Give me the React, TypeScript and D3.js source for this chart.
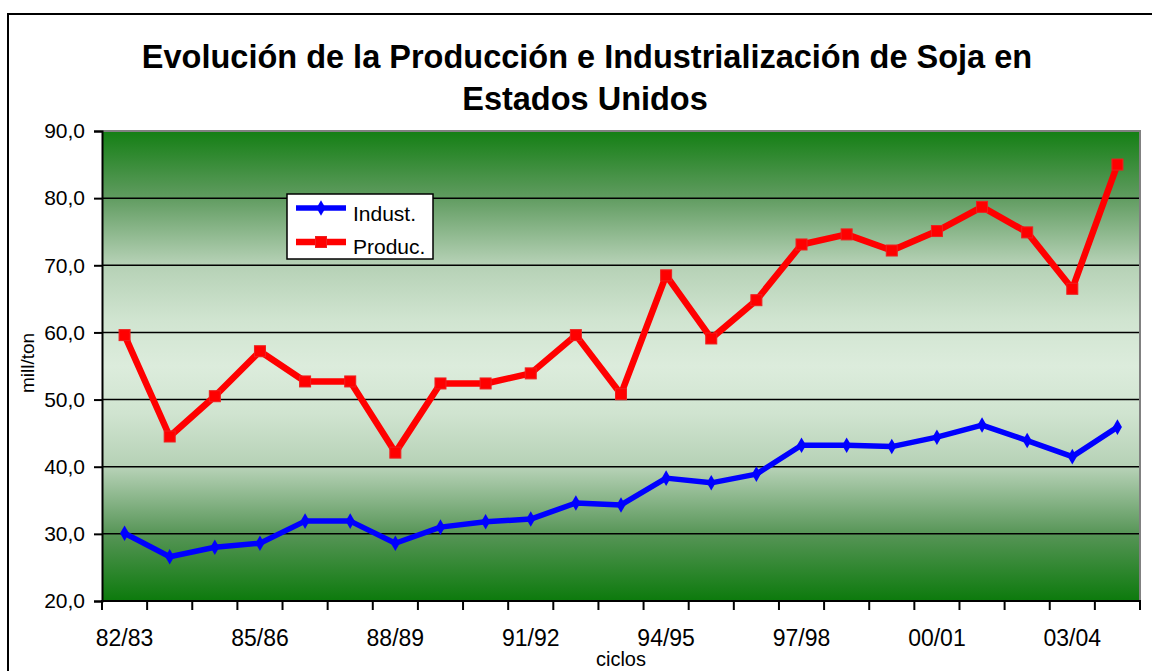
import { useEffect, useRef } from 'react';
import * as d3 from 'd3';

// campaign cycles (x axis)
const ciclos: string[] = [
  '82/83', '83/84', '84/85', '85/86', '86/87', '87/88', '88/89', '89/90',
  '90/91', '91/92', '92/93', '93/94', '94/95', '95/96', '96/97', '97/98',
  '98/99', '99/00', '00/01', '01/02', '02/03', '03/04', '04/05',
];

// millions of tons
const indust: number[] = [
  30.1, 26.6, 28.0, 28.6, 31.9, 31.9, 28.6, 31.0, 31.8, 32.2, 34.6, 34.3,
  38.3, 37.6, 38.9, 43.2, 43.2, 43.0, 44.4, 46.2, 43.9, 41.5, 45.9,
];
const produc: number[] = [
  59.6, 44.5, 50.5, 57.2, 52.7, 52.7, 42.1, 52.4, 52.4, 53.9, 59.6, 50.8,
  68.5, 59.1, 64.8, 73.1, 74.6, 72.2, 75.1, 78.7, 74.9, 66.5, 85.0,
];

const yTicks: number[] = [20, 30, 40, 50, 60, 70, 80, 90];
const shownLabels: string[] = ['82/83', '85/86', '88/89', '91/92', '94/95', '97/98', '00/01', '03/04'];

const App = () => {
  const svgRef = useRef<SVGSVGElement>(null);

  useEffect(() => {
    if (!svgRef.current) return;
    const root = d3.select(svgRef.current);
    root.selectAll('*').remove();

    const W = 1152;
    const H = 671;
    const plot = { left: 102, right: 1140, top: 131, bottom: 601 };
    const font = 'Arial, "Liberation Sans", sans-serif';

    root.attr('width', W).attr('height', H);

    // outer chart border
    root
      .append('rect')
      .attr('x', 8)
      .attr('y', 14)
      .attr('width', W)
      .attr('height', H)
      .attr('fill', 'white')
      .attr('stroke', '#000')
      .attr('stroke-width', 2);

    // title
    const title = root
      .append('text')
      .attr('text-anchor', 'middle')
      .attr('font-family', font)
      .attr('font-weight', 'bold')
      .attr('font-size', 32.5)
      .attr('fill', '#000');
    title.append('tspan').attr('x', 587).attr('y', 68).text('Evolución de la Producción e Industrialización de Soja en');
    title.append('tspan').attr('x', 585).attr('y', 110).text('Estados Unidos');

    const x = d3.scaleBand<string>().domain(ciclos).range([plot.left, plot.right]);
    const y = d3.scaleLinear().domain([20, 90]).range([plot.bottom, plot.top]);

    // background gradient
    const defs = root.append('defs');
    const grad = defs
      .append('linearGradient')
      .attr('id', 'bg')
      .attr('x1', 0)
      .attr('y1', 0)
      .attr('x2', 0)
      .attr('y2', 1);
    const stops: [number, string][] = [
      [0, '#147f14'],
      [0.14, '#5f9b5f'],
      [0.28, '#b4d0b4'],
      [0.4, '#d0e4d0'],
      [0.5, '#dcecdc'],
      [0.6, '#d0e4d0'],
      [0.72, '#b4d0b4'],
      [0.86, '#559455'],
      [1, '#0c7a0c'],
    ];
    stops.forEach(([o, c]) => grad.append('stop').attr('offset', o).attr('stop-color', c));

    root
      .append('rect')
      .attr('x', plot.left)
      .attr('y', plot.top)
      .attr('width', plot.right - plot.left)
      .attr('height', plot.bottom - plot.top)
      .attr('fill', 'url(#bg)');

    // gridlines
    root
      .selectAll('.grid')
      .data(yTicks.filter((t) => t > 20 && t < 90))
      .enter()
      .append('line')
      .attr('x1', plot.left)
      .attr('x2', plot.right)
      .attr('y1', (d) => y(d))
      .attr('y2', (d) => y(d))
      .attr('stroke', '#000')
      .attr('stroke-width', 1.5);

    // gray frame top/right
    root
      .append('path')
      .attr('d', `M${plot.left},${plot.top} H${plot.right} V${plot.bottom}`)
      .attr('fill', 'none')
      .attr('stroke', '#808080')
      .attr('stroke-width', 2);

    // y axis
    const yAxis = d3
      .axisLeft(y)
      .tickValues(yTicks)
      .tickSize(8)
      .tickPadding(9)
      .tickFormat((d) => d3.format('.1f')(d as number).replace('.', ','));
    root
      .append('g')
      .attr('transform', `translate(${plot.left},0)`)
      .call(yAxis)
      .call((g) => g.select('.domain').attr('stroke', '#000').attr('stroke-width', 2))
      .call((g) => g.selectAll('.tick line').attr('stroke', '#000').attr('stroke-width', 2))
      .call((g) =>
        g
          .selectAll('.tick text')
          .attr('font-family', font)
          .attr('font-size', 21)
          .attr('fill', '#000')
      );

    // x axis: ticks at category boundaries, labels every third cycle
    const xAxisG = root.append('g');
    xAxisG
      .append('line')
      .attr('x1', plot.left - 1)
      .attr('x2', plot.right + 1)
      .attr('y1', plot.bottom)
      .attr('y2', plot.bottom)
      .attr('stroke', '#000')
      .attr('stroke-width', 2);
    const bounds = ciclos.map((c) => x(c)!).concat([plot.right]);
    xAxisG
      .selectAll('.xtick')
      .data(bounds)
      .enter()
      .append('line')
      .attr('x1', (d) => d)
      .attr('x2', (d) => d)
      .attr('y1', plot.bottom)
      .attr('y2', plot.bottom + 9)
      .attr('stroke', '#000')
      .attr('stroke-width', 2);
    xAxisG
      .selectAll('.xlabel')
      .data(shownLabels)
      .enter()
      .append('text')
      .attr('x', (d) => x(d)! + x.bandwidth() / 2)
      .attr('y', 646)
      .attr('text-anchor', 'middle')
      .attr('font-family', font)
      .attr('font-size', 23)
      .attr('fill', '#000')
      .text((d) => d);

    // axis titles
    root
      .append('text')
      .attr('x', (plot.left + plot.right) / 2)
      .attr('y', 666)
      .attr('text-anchor', 'middle')
      .attr('font-family', font)
      .attr('font-size', 20)
      .attr('fill', '#000')
      .text('ciclos');
    root
      .append('text')
      .attr('transform', `translate(34,${363}) rotate(-90)`)
      .attr('text-anchor', 'middle')
      .attr('font-family', font)
      .attr('font-size', 19)
      .attr('fill', '#000')
      .text('mill/ton');

    const cx = (i: number) => x(ciclos[i])! + x.bandwidth() / 2;
    const line = d3
      .line<number>()
      .x((_, i) => cx(i))
      .y((d) => y(d));

    // Indust. line
    root
      .append('path')
      .datum(indust)
      .attr('d', line)
      .attr('fill', 'none')
      .attr('stroke', '#0000ff')
      .attr('stroke-width', 5.5)
      .attr('stroke-linejoin', 'round');
    root
      .selectAll('.dia')
      .data(indust)
      .enter()
      .append('path')
      .attr('d', d3.symbol(d3.symbolDiamond, 70)())
      .attr('transform', (d, i) => `translate(${cx(i)},${y(d)})`)
      .attr('fill', '#0000ff');

    // Produc. line
    root
      .append('path')
      .datum(produc)
      .attr('d', line)
      .attr('fill', 'none')
      .attr('stroke', '#ff0000')
      .attr('stroke-width', 6.5)
      .attr('stroke-linejoin', 'round');
    root
      .selectAll('.sq')
      .data(produc)
      .enter()
      .append('rect')
      .attr('x', (_, i) => cx(i) - 5.5)
      .attr('y', (d) => y(d) - 5.5)
      .attr('width', 11)
      .attr('height', 11)
      .attr('fill', '#ff0000')
      .attr('stroke', '#ee2020')
      .attr('stroke-width', 1);

    // legend
    const lg = root.append('g');
    lg.append('rect')
      .attr('x', 287)
      .attr('y', 194)
      .attr('width', 146)
      .attr('height', 65)
      .attr('fill', 'white')
      .attr('stroke', '#000')
      .attr('stroke-width', 1.5);
    const legendItems = [
      { name: 'Indust.', color: '#0000ff', ly: 208, ty: 221, diamond: true },
      { name: 'Produc.', color: '#ff0000', ly: 242, ty: 254, diamond: false },
    ];
    legendItems.forEach((it) => {
      lg.append('line')
        .attr('x1', 296)
        .attr('x2', 346)
        .attr('y1', it.ly)
        .attr('y2', it.ly)
        .attr('stroke', it.color)
        .attr('stroke-width', it.diamond ? 5.5 : 6.5);
      if (it.diamond) {
        lg.append('path')
          .attr('d', d3.symbol(d3.symbolDiamond, 70)())
          .attr('transform', `translate(321,${it.ly})`)
          .attr('fill', it.color);
      } else {
        lg.append('rect')
          .attr('x', 315.5)
          .attr('y', it.ly - 5.5)
          .attr('width', 11)
          .attr('height', 11)
          .attr('fill', it.color)
          .attr('stroke', '#ee2020');
      }
      lg.append('text')
        .attr('x', 353)
        .attr('y', it.ty)
        .attr('font-family', font)
        .attr('font-size', 21)
        .attr('fill', '#000')
        .text(it.name);
    });
  }, []);

  return <svg ref={svgRef} style={{ position: 'absolute', left: 0, top: 0, display: 'block' }}></svg>;
};

export default App;
